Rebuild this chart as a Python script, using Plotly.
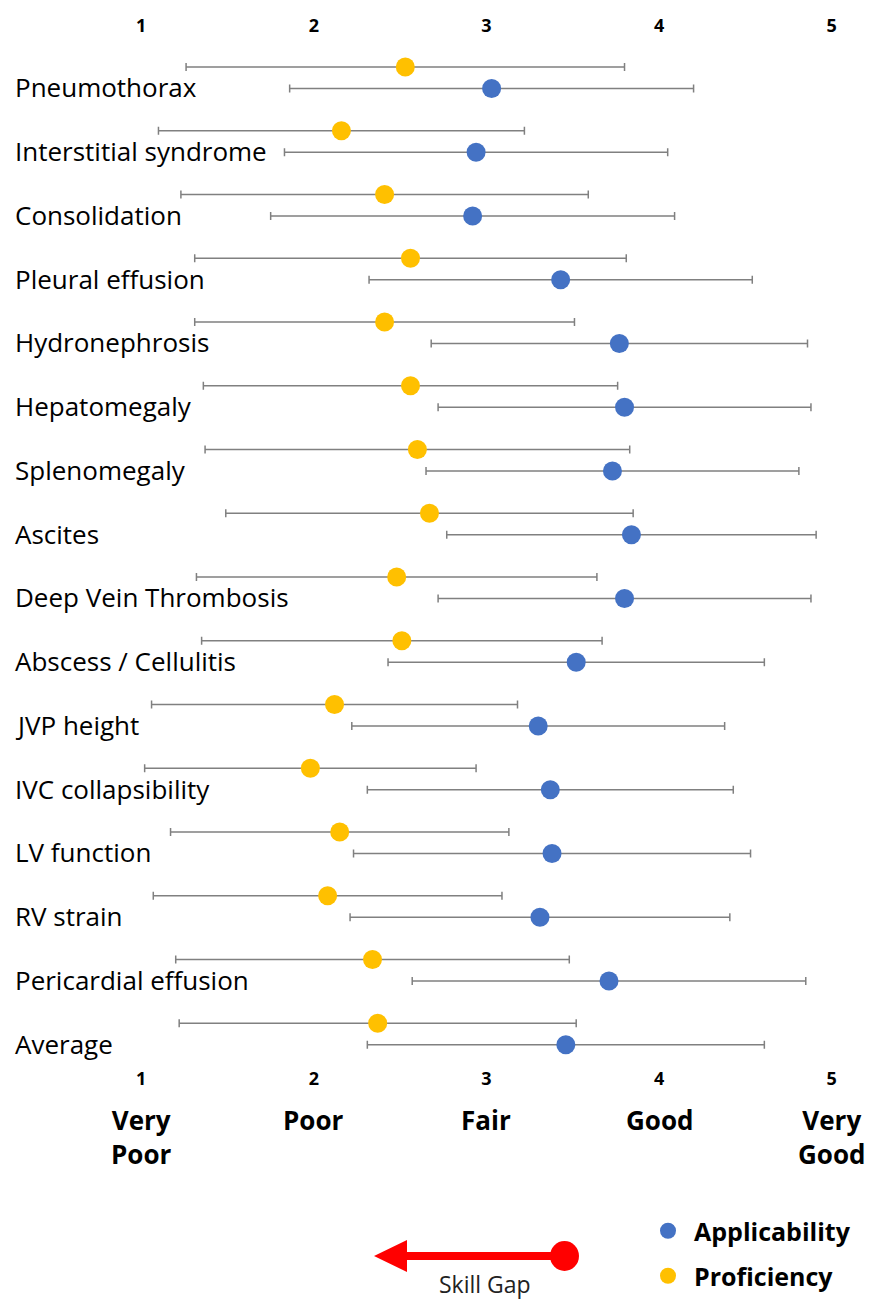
import plotly.graph_objects as go

# ---------------- data ----------------
categories = ["Pneumothorax", "Interstitial syndrome", "Consolidation", "Pleural effusion",
              "Hydronephrosis", "Hepatomegaly", "Splenomegaly", "Ascites",
              "Deep Vein Thrombosis", "Abscess / Cellulitis", "JVP height",
              "IVC collapsibility", "LV function", "RV strain", "Pericardial effusion", "Average"]
applicability_mean = [3.03, 2.94, 2.92, 3.43, 3.77, 3.80, 3.73, 3.84, 3.80, 3.52, 3.30, 3.37, 3.38, 3.31, 3.71, 3.46]
applicability_sd = [1.17, 1.11, 1.17, 1.11, 1.09, 1.08, 1.08, 1.07, 1.08, 1.09, 1.08, 1.06, 1.15, 1.10, 1.14, 1.15]
proficiency_mean = [2.53, 2.16, 2.41, 2.56, 2.41, 2.56, 2.60, 2.67, 2.48, 2.51, 2.12, 1.98, 2.15, 2.08, 2.34, 2.37]
proficiency_sd = [1.27, 1.06, 1.18, 1.25, 1.10, 1.20, 1.23, 1.18, 1.16, 1.16, 1.06, 0.96, 0.98, 1.01, 1.14, 1.15]
scale_values = [1, 2, 3, 4, 5]
scale_labels = ["Very<br>Poor", "Poor", "Fair", "Good", "Very<br>Good"]

# ---------------- style / layout ----------------
W, H = 875, 1302
ML, MR, MT, MB = 0, 0, 42, 239
PW, PH = W - ML - MR, H - MT - MB
FONT = "Open Sans"
BLUE, YELLOW, GREY, RED = "#4472C4", "#FFC000", "#808080", "#FF0000"
OFFSET = 0.17          # vertical offset of the two series within a category
ROW0_PX, ROW_PX = 77.75, 63.75
X_RANGE = [0.182, 5.251]
Y_RANGE = [(H - MB - ROW0_PX) / ROW_PX, (MT - ROW0_PX) / ROW_PX]


def px_x(p):
    return (p - ML) / PW


def px_y(p):
    return (H - MB - p) / PH


idx = list(range(len(categories)))
y_prof = [i - OFFSET for i in idx]
y_app = [i + OFFSET for i in idx]

fig = go.Figure()
err_style = dict(type="data", symmetric=True, color=GREY, thickness=1.5, width=4)

fig.add_trace(go.Scatter(
    x=applicability_mean, y=y_app, mode="markers", name="Applicability",
    marker=dict(color=BLUE, size=19),
    error_x=dict(array=applicability_sd, **err_style),
    legend="legend",
))
fig.add_trace(go.Scatter(
    x=proficiency_mean, y=y_prof, mode="markers", name="Proficiency",
    marker=dict(color=YELLOW, size=19),
    error_x=dict(array=proficiency_sd, **err_style),
    legend="legend2",
))
# invisible trace to carry the top axis
fig.add_trace(go.Scatter(x=[scale_values[0]], y=[y_prof[0]], xaxis="x2", mode="markers",
                         marker=dict(opacity=0), showlegend=False, hoverinfo="skip"))

annotations = []
for i, c in enumerate(categories):
    annotations.append(dict(xref="paper", yref="y", x=px_x(13), y=y_app[i] - 0.02, text=c,
                            showarrow=False, xanchor="left", yanchor="middle",
                            font=dict(family=FONT, size=26, color="#000000")))
for v, lab in zip(scale_values, scale_labels):
    annotations.append(dict(xref="x", yref="paper", x=v, y=px_y(1100), text=lab,
                            showarrow=False, xanchor="center", yanchor="top",
                            font=dict(family=FONT, size=26, color="#000000", weight="bold")))
annotations.append(dict(xref="paper", yref="paper", x=px_x(485), y=px_y(1284), text="Skill Gap",
                        showarrow=False, xanchor="center", yanchor="middle",
                        font=dict(family=FONT, size=23, color="#222222")))

shapes = [
    dict(type="line", xref="paper", yref="paper", x0=px_x(402), x1=px_x(560),
         y0=px_y(1256), y1=px_y(1256), line=dict(color=RED, width=8)),
    dict(type="path", xref="paper", yref="paper",
         path=f"M {px_x(374)} {px_y(1256)} L {px_x(407)} {px_y(1240)} L {px_x(407)} {px_y(1272)} Z",
         fillcolor=RED, line=dict(color=RED, width=0)),
    dict(type="circle", xref="paper", yref="paper", x0=px_x(550), x1=px_x(579),
         y0=px_y(1241), y1=px_y(1271), fillcolor=RED, line=dict(color=RED, width=0)),
]

tick_font = dict(family=FONT, size=18, color="#000000", weight="bold")
axis_common = dict(range=X_RANGE, tickvals=scale_values, ticktext=[str(v) for v in scale_values],
                   showgrid=False, zeroline=False, showline=False, ticks="", tickfont=tick_font)

legend_common = dict(font=dict(family=FONT, size=25, color="#000000", weight="bold"),
                     bgcolor="rgba(0,0,0,0)", xanchor="left", yanchor="middle",
                     itemsizing="trace", itemwidth=42)

fig.update_layout(
    width=W, height=H, autosize=False,
    margin=dict(l=ML, r=MR, t=MT, b=MB, pad=0),
    paper_bgcolor="white", plot_bgcolor="white",
    xaxis=dict(side="bottom", ticklabelstandoff=3, **axis_common),
    xaxis2=dict(side="top", overlaying="x", matches="x", ticklabelstandoff=5, **axis_common),
    yaxis=dict(range=Y_RANGE, showgrid=False, zeroline=False, showline=False,
               showticklabels=False, ticks=""),
    legend=dict(x=px_x(642), y=px_y(1231), **legend_common),
    legend2=dict(x=px_x(642), y=px_y(1276), **legend_common),
    annotations=annotations,
    shapes=shapes,
)

fig.write_html("out.html", config={"displayModeBar": False})
with open("out.html", encoding="utf-8") as f:
    html = f.read()
html = html.replace("<body>", "<body style=\"margin:0;padding:0;overflow:hidden\">", 1)
with open("out.html", "w", encoding="utf-8") as f:
    f.write(html)
